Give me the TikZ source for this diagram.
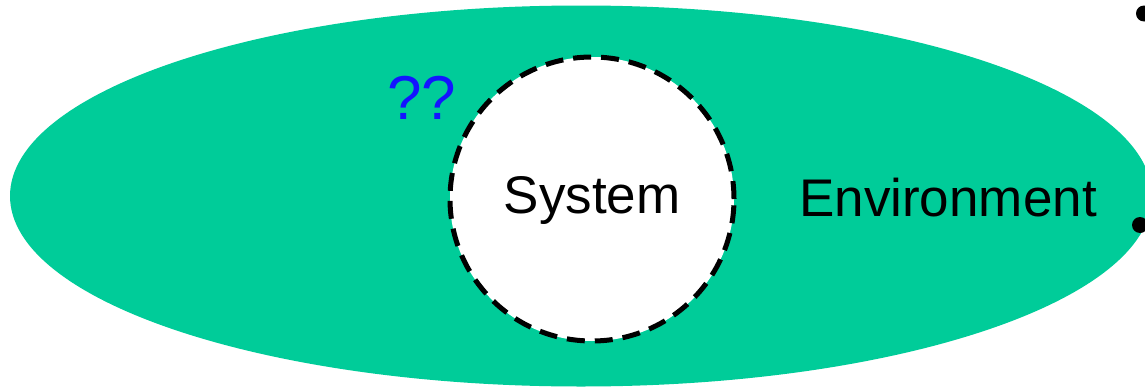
\documentclass[tikz,border=0pt]{standalone}
\usepackage{fontspec}
\setmainfont{Liberation Sans}
\usetikzlibrary{shapes.geometric}
\definecolor{envgreen}{RGB}{0,204,153}
\definecolor{qblue}{RGB}{20,20,255}
\begin{document}
\begin{tikzpicture}[x=1pt,y=-1pt,
  envshape/.style={fill=envgreen,draw=none},
  sysshape/.style={fill=white,draw=black,line width=5pt,dash pattern=on 18pt off 10pt},
  lbl/.style={font=\fontsize{53}{60}\selectfont,inner sep=0pt,anchor=base},
  dotmark/.style={circle,fill=black,inner sep=0pt,minimum size=16pt}]
\useasboundingbox (0,0) rectangle (1145,388);
\node[envshape,ellipse,minimum width=1142pt,minimum height=381pt,inner sep=0pt] (env) at (581,196) {};
\node[sysshape,circle,minimum size=284pt,inner sep=0pt] (sys) at (592,199) {};
\node[lbl] (systxt) at (592,213) {System};
\node[lbl] (envtxt) at (948,216) {Environment};
\node[lbl,text=qblue,font=\fontsize{62}{68}\selectfont] (qq) at (422,119) {??};
\node[dotmark] (d1) at (1144,13.5) {};
\node[dotmark] (d2) at (1140,225) {};
\end{tikzpicture}
\end{document}
